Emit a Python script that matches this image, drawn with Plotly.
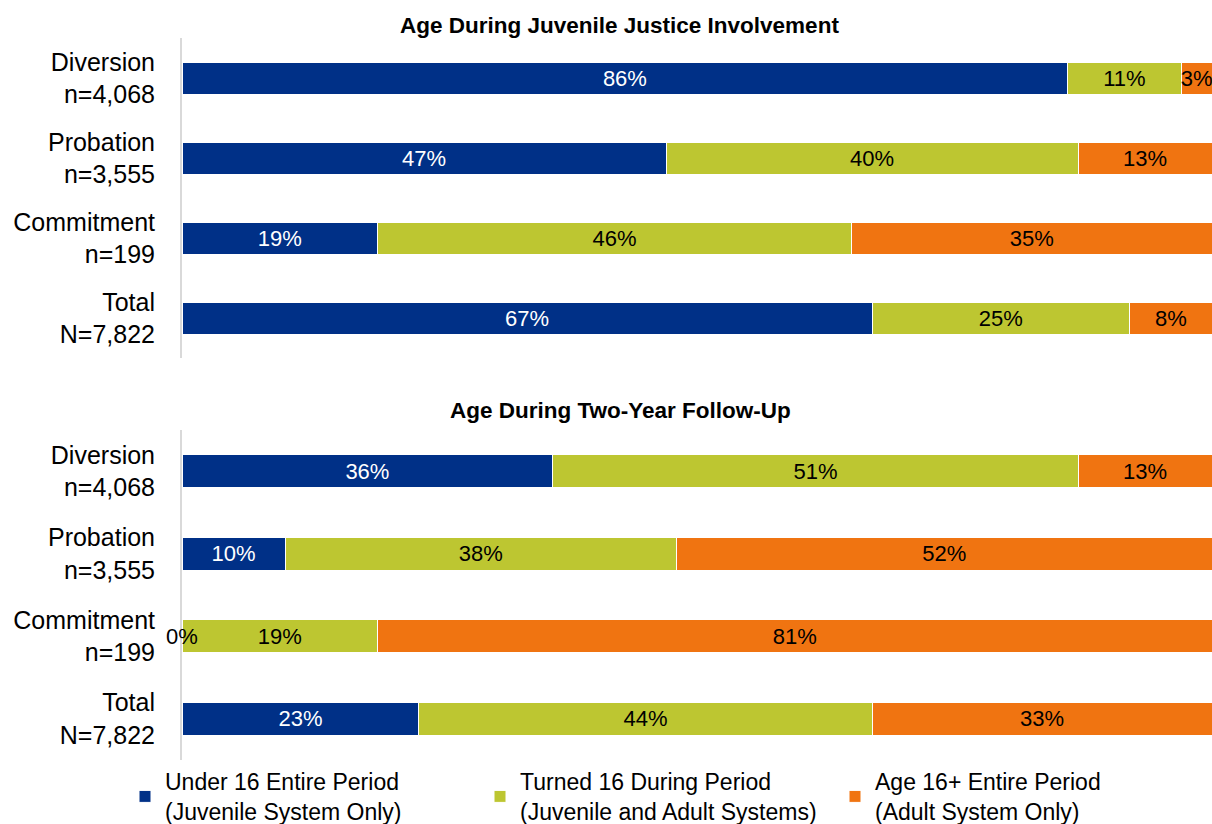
import plotly.graph_objects as go

categories = ["Diversion", "Probation", "Commitment", "Total"]
cat_labels = ["Diversion<br>n=4,068", "Probation<br>n=3,555", "Commitment<br>n=199", "Total<br>N=7,822"]

series_names = ["Under 16 Entire Period<br>(Juvenile System Only)",
                "Turned 16 During Period<br>(Juvenile and Adult Systems)",
                "Age 16+ Entire Period<br>(Adult System Only)"]
colors = ["#003087", "#BDC631", "#F07411"]
text_colors = ["white", "black", "black"]

involvement_under16 = [86, 47, 19, 67]
involvement_turned16 = [11, 40, 46, 25]
involvement_16plus = [3, 13, 35, 8]

followup_under16 = [36, 10, 0, 23]
followup_turned16 = [51, 38, 19, 44]
followup_16plus = [13, 52, 81, 33]

titles = ["Age During Juvenile Justice Involvement", "Age During Two-Year Follow-Up"]

FONT = "Liberation Sans, Arial, sans-serif"
W, H = 1212, 824
ML, MB = 182, 64
PW, PH = W - ML, H - MB

fig = go.Figure()

panels = [
    ([involvement_under16, involvement_turned16, involvement_16plus], "x", "y"),
    ([followup_under16, followup_turned16, followup_16plus], "x2", "y2"),
]

annotations = []
for p, (vals, xa, ya) in enumerate(panels):
    for s in range(3):
        texts = [f"{v}%" if v > 0 else "" for v in vals[s]]
        fig.add_trace(go.Bar(
            y=categories, x=vals[s], orientation="h",
            name=series_names[s], legendgroup=str(s), showlegend=(p == 0),
            marker=dict(color=colors[s], line=dict(color="white", width=1)),
            text=texts, textposition="inside", insidetextanchor="middle", textangle=0,
            textfont=dict(color=text_colors[s], size=22, family=FONT),
            constraintext="none", cliponaxis=False,
            xaxis=xa, yaxis=ya, hoverinfo="skip",
        ))
        for c, v in zip(categories, vals[s]):
            if v == 0:
                annotations.append(dict(x=0, y=c, xref=xa, yref=ya, text=f"{v}%",
                                        showarrow=False, xanchor="center",
                                        font=dict(size=22, color="black", family=FONT)))

def ydom(top_px, bot_px):
    return [max(0, 1 - bot_px / PH), 1 - top_px / PH]

def px_x(x):
    return (x - ML) / PW

def px_y(y):
    return 1 - y / PH

xaxis_common = dict(range=[0, 100], visible=False, showgrid=False, zeroline=False,
                    fixedrange=True, automargin=False)
yaxis_common = dict(
    categoryorder="array", categoryarray=categories, autorange="reversed",
    tickmode="array", tickvals=categories, ticktext=cat_labels,
    showline=True, linecolor="#D9D9D9", linewidth=2, showgrid=False, zeroline=False,
    ticks="", ticklabelstandoff=20, automargin=False, fixedrange=True,
    tickfont=dict(size=25, color="black", family=FONT),
)

fig.update_layout(
    template="none",
    width=W, height=H,
    margin=dict(l=ML, r=0, t=0, b=MB, autoexpand=False),
    paper_bgcolor="white", plot_bgcolor="white",
    barmode="stack", bargap=0.6,
    xaxis=dict(domain=[0, 1], anchor="y", **xaxis_common),
    xaxis2=dict(domain=[0, 1], anchor="y2", **xaxis_common),
    yaxis=dict(domain=ydom(38, 358), anchor="x", **yaxis_common),
    yaxis2=dict(domain=ydom(430, 760), anchor="x2", **yaxis_common),
    uniformtext=dict(mode="show", minsize=22),
    font=dict(family=FONT, color="black"),
    legend=dict(orientation="h", x=px_x(125), xanchor="left", y=min(0, px_y(760)), yanchor="top",
                entrywidth=310, entrywidthmode="pixels",
                font=dict(size=23, color="black", family=FONT),
                traceorder="normal", itemclick=False, itemdoubleclick=False,
                bgcolor="rgba(0,0,0,0)"),
    showlegend=True,
)

annotations.append(dict(x=px_x(619), y=px_y(26), xref="paper", yref="paper",
                        text=f"<b>{titles[0]}</b>", showarrow=False, xanchor="center", yanchor="middle",
                        font=dict(size=22.5, color="black", family=FONT)))
annotations.append(dict(x=px_x(620), y=px_y(410), xref="paper", yref="paper",
                        text=f"<b>{titles[1]}</b>", showarrow=False, xanchor="center", yanchor="middle",
                        font=dict(size=22.5, color="black", family=FONT)))
fig.update_layout(annotations=annotations)

post = ("document.body.style.margin='0';document.body.style.overflow='hidden';"
        "var gd=document.getElementById('{plot_id}');"
        "Plotly.relayout(gd,{width:%d,height:%d});" % (W, H))

fig.write_html("out.html", post_script=post, config={"displayModeBar": False})
